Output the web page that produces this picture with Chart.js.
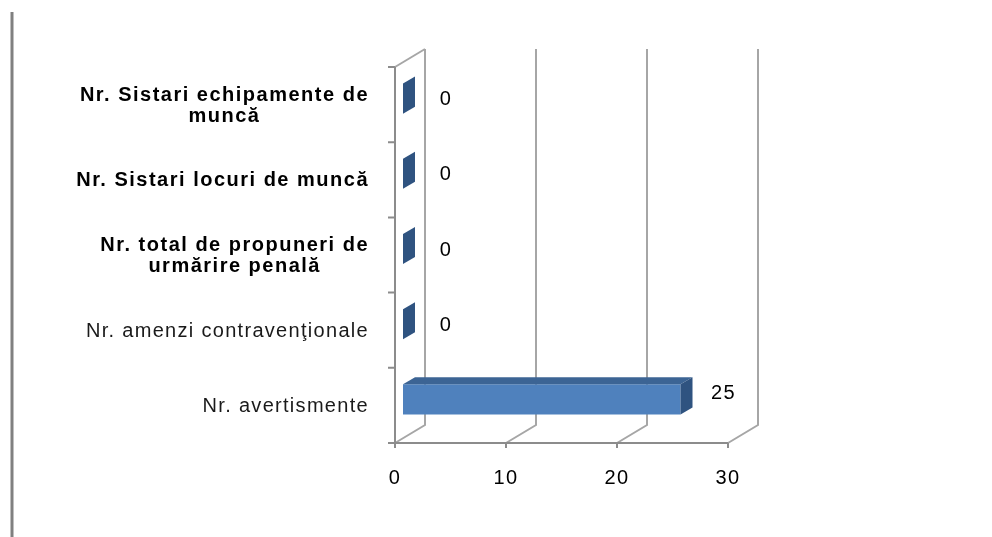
<!DOCTYPE html>
<html>
<head>
<meta charset="utf-8">
<title>Rezultate control</title>
<script src="https://cdn.jsdelivr.net/npm/chart.js@4.4.0/dist/chart.umd.min.js"></script>
<style>
  html, body { margin: 0; padding: 0; background: #fff; }
  canvas { display: block; }
</style>
</head>
<body>
<canvas id="chart" width="992" height="537"></canvas>
<script>
const categories = [
  ['Nr. Sistari echipamente de', 'muncă'],
  'Nr. Sistari locuri de muncă',
  ['Nr. total de propuneri de', 'urmărire penală'],
  'Nr. amenzi contravenţionale',
  'Nr. avertismente'
];
const values = [0, 0, 0, 0, 25];
const xTicks = [0, 10, 20, 30];

// 3d look: wall depth, bar plane shift and bar depth
const WALL = { x: 30, y: -18 };
const SHIFT = { x: 8, y: -6 };
const DEPTH = { x: 12, y: -7 };
const FONT = '"Liberation Sans", Arial, sans-serif';

function poly(ctx, pts) {
    ctx.beginPath();
    pts.forEach((p, i) => i ? ctx.lineTo(p[0], p[1]) : ctx.moveTo(p[0], p[1]));
    ctx.closePath();
    ctx.fill();
}

const frame3d = {
    id: 'frame3d',
    beforeDraw(chart) {
        const { ctx, chartArea: a } = chart;
        const x = chart.scales.x;
        ctx.letterSpacing = '1.5px';
        ctx.save();
        // page border on the left
        ctx.strokeStyle = '#808080';
        ctx.lineWidth = 3;
        ctx.beginPath();
        ctx.moveTo(12, 12);
        ctx.lineTo(12, 537);
        ctx.stroke();

        // back wall lines and floor diagonals
        ctx.strokeStyle = '#a6a6a6';
        ctx.lineWidth = 2;
        xTicks.forEach(v => {
            const px = x.getPixelForValue(v);
            ctx.beginPath();
            ctx.moveTo(px, a.bottom);
            ctx.lineTo(px + WALL.x, a.bottom + WALL.y);
            ctx.lineTo(px + WALL.x, a.top + WALL.y);
            ctx.stroke();
        });
        ctx.beginPath();
        ctx.moveTo(a.left, a.top);
        ctx.lineTo(a.left + WALL.x, a.top + WALL.y);
        ctx.stroke();

        // front axes with tick marks
        ctx.strokeStyle = '#8c8c8c';
        ctx.beginPath();
        ctx.moveTo(a.left, a.top);
        ctx.lineTo(a.left, a.bottom);
        ctx.lineTo(a.right, a.bottom);
        const n = categories.length;
        const band = (a.bottom - a.top) / n;
        for (let i = 0; i <= n; i++) {
            const y = a.top + i * band;
            ctx.moveTo(a.left - 7, y);
            ctx.lineTo(a.left, y);
        }
        xTicks.forEach(v => {
            const px = x.getPixelForValue(v);
            ctx.moveTo(px, a.bottom);
            ctx.lineTo(px, a.bottom + 5);
        });
        ctx.stroke();
        ctx.restore();
    },
    beforeDatasetsDraw(chart) {
        chart.ctx.save();
        chart.ctx.translate(SHIFT.x, SHIFT.y);
    },
    afterDatasetsDraw(chart) {
        const ctx = chart.ctx;
        const meta = chart.getDatasetMeta(0);
        meta.data.forEach((bar, i) => {
            const top = bar.y - bar.height / 2;
            const bottom = bar.y + bar.height / 2;
            const x0 = bar.base, x1 = bar.x;
            ctx.fillStyle = '#3c6494';
            poly(ctx, [[x0, top], [x0 + DEPTH.x, top + DEPTH.y], [x1 + DEPTH.x, top + DEPTH.y], [x1, top]]);
            ctx.fillStyle = '#2f5380';
            poly(ctx, [[x1, top], [x1 + DEPTH.x, top + DEPTH.y], [x1 + DEPTH.x, bottom + DEPTH.y], [x1, bottom]]);

            // value label
            ctx.fillStyle = '#000';
            ctx.font = '20px ' + FONT;
            ctx.letterSpacing = '1.5px';
            ctx.textAlign = 'center';
            ctx.textBaseline = 'middle';
            ctx.fillText(String(values[i]), x1 + 43, bar.y + (values[i] > 0 ? -6 : 1));
        });
        ctx.restore();
    },
    afterDraw(chart) {
        const ctx = chart.ctx;
        const y = chart.scales.y;
        const right = 369;
        ctx.save();
        ctx.textAlign = 'center';
        ctx.textBaseline = 'middle';
        categories.forEach((c, i) => {
            const lines = Array.isArray(c) ? c : [c];
            const bold = i < 3;
            ctx.font = (bold ? 'bold ' : '') + '20px ' + FONT;
            ctx.letterSpacing = bold ? '1.5px' : '1.3px';
            ctx.fillStyle = bold ? '#000' : '#1a1a1a';
            const w = Math.max(...lines.map(l => ctx.measureText(l).width));
            const cx = right - w / 2;
            const cy = y.getPixelForValue(i) + 1;
            lines.forEach((l, k) => {
                ctx.fillText(l, cx, cy + (k - (lines.length - 1) / 2) * 21);
            });
        });
        ctx.restore();
    }
};

new Chart(document.getElementById('chart'), {
    type: 'bar',
    data: {
        labels: categories,
        datasets: [{
            data: values,
            backgroundColor: '#4f81bd',
            borderWidth: 0,
            categoryPercentage: 0.8,
            barPercentage: 0.5
        }]
    },
    options: {
        indexAxis: 'y',
        responsive: false,
        animation: false,
        layout: { padding: { left: 395, right: 264, top: 67, bottom: 0 } },
        plugins: {
            legend: { display: false },
            tooltip: { enabled: false }
        },
        scales: {
            x: {
                min: 0,
                max: 30,
                ticks: {
                    stepSize: 10,
                    color: '#000',
                    font: { family: FONT, size: 20 },
                    padding: 23,
                    maxRotation: 0
                },
                grid: { display: false, drawTicks: false },
                border: { display: false },
                afterFit(scale) { scale.height = 94; }
            },
            y: {
                ticks: { display: false },
                grid: { display: false, drawTicks: false },
                border: { display: false },
                afterFit(scale) { scale.width = 0; }
            }
        }
    },
    plugins: [frame3d]
});
</script>
</body>
</html>
